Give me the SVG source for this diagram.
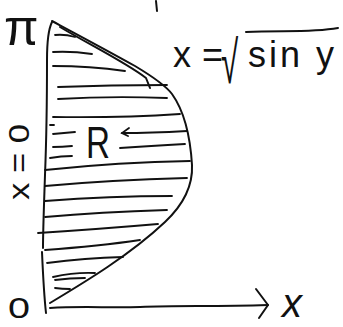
<svg xmlns="http://www.w3.org/2000/svg" width="343" height="327" viewBox="0 0 343 327">
<style>
.ink{fill:none;stroke:#111;stroke-width:2;stroke-linecap:round;stroke-linejoin:round}
.h{fill:none;stroke:#111;stroke-width:1.8;stroke-linecap:round}
.t{fill:#111;font-family:"Liberation Sans","DejaVu Sans",sans-serif}
</style>
<rect width="343" height="327" fill="#fff"/>
<g id="curve">
<path class="ink" d="M52,21 C80,36 110,52 135,66 C155,78 166,86 172,94 C182,108 190,132 192,165 C193,186 183,205 165,222 C130,255 85,282 50,303"/>
<path class="ink" d="M60,27 C90,45 125,62 146,78 L150,88"/>
<path class="ink" d="M156,1 L157,11"/>
</g>
<g id="axes">
<path class="ink" d="M52,22 C48,30 47,45 47,60 C47,110 46,150 45,175 C44,205 43,230 43,248"/>
<path class="ink" d="M42,252 C43,275 44,295 46,313"/>
<path class="ink" d="M50,308 C80,306 110,308 140,307 C180,305 210,307 268,305"/>
<path class="ink" d="M256,289 L268,305 L259,318"/>
</g>
<g id="hatching">
<path class="h" d="M55,35 Q65,34 75,37"/>
<path class="h" d="M53,52 Q72,51 92,54"/>
<path class="h" d="M53,66 Q90,66 125,71"/>
<path class="h" d="M58,87 Q110,85 167,85"/>
<path class="h" d="M58,99 Q110,96 167,98"/>
<path class="h" d="M53,117 Q120,118 180,114"/>
<path class="h" d="M50,125 L54,125"/>
<path class="h" d="M53,134 Q64,133 75,132"/>
<path class="h" d="M53,147 Q62,147 72,146"/>
<path class="h" d="M50,158 Q61,156 72,156"/>
<path class="h" d="M122,133 Q150,133 187,131"/>
<path class="h" d="M129,128 L122,133 L128,136"/>
<path class="h" d="M120,148 Q150,146 185,144"/>
<path class="h" d="M45,170 Q120,162 190,161"/>
<path class="h" d="M45,186 Q110,180 187,178"/>
<path class="h" d="M45,201 Q110,196 172,196"/>
<path class="h" d="M45,217 Q100,212 167,210"/>
<path class="h" d="M38,233 Q100,229 158,224"/>
<path class="h" d="M45,250 Q100,246 140,240"/>
<path class="h" d="M47,263 Q85,258 123,257"/>
<path class="h" d="M53,277 Q75,272 95,273"/>
<path class="h" d="M55,280 Q70,278 85,278"/>
<path class="h" d="M55,288 Q62,289 70,289"/>
</g>
<g id="labels">
<text class="t" x="4" y="45" font-size="50" font-family="DejaVu Sans">π</text>
<text class="t" font-size="36"><tspan x="173" y="67">x</tspan><tspan x="202" y="67">=</tspan></text>
<text class="t" transform="translate(221,83) scale(0.56,1.06)" font-size="56" font-family="DejaVu Sans">√</text>
<path class="ink" d="M246,32 C280,30 310,33 338,28"/>
<text class="t" x="248" y="67" font-size="36" letter-spacing="3">sin y</text>
<text class="t" x="86" y="158" font-size="44" textLength="24" lengthAdjust="spacingAndGlyphs">R</text>
<text class="t" transform="translate(29,162) rotate(-90)" text-anchor="middle" font-size="30" textLength="76" lengthAdjust="spacingAndGlyphs">x = 0</text>
<text class="t" x="8" y="318" font-size="30" textLength="22" lengthAdjust="spacingAndGlyphs">0</text>
<text class="t" x="282" y="317" font-size="40" font-style="italic" font-family="Liberation Serif">x</text>
</g>
</svg>
